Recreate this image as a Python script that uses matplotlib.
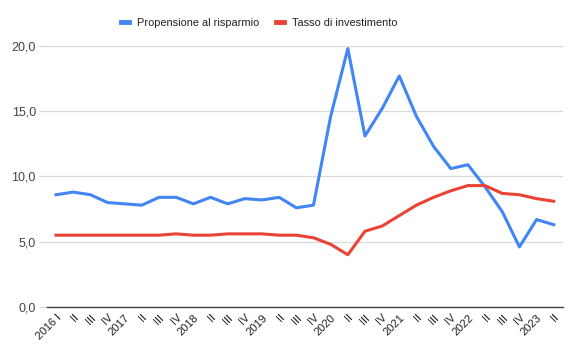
import matplotlib

matplotlib.use("Agg")
import matplotlib.pyplot as plt  # noqa: E402
from matplotlib.ticker import FuncFormatter  # noqa: E402

plt.rcParams["font.family"] = ["Liberation Sans", "DejaVu Sans"]

quarter_labels = [
    "2016 I", "II", "III", "IV",
    "2017", "II", "III", "IV",
    "2018", "II", "III", "IV",
    "2019", "II", "III", "IV",
    "2020", "II", "III", "IV",
    "2021", "II", "III", "IV",
    "2022", "II", "III", "IV",
    "2023", "II",
]
propensione_risparmio = [
    8.6, 8.8, 8.6, 8.0, 7.9, 7.8, 8.4, 8.4, 7.9, 8.4,
    7.9, 8.3, 8.2, 8.4, 7.6, 7.8, 14.6, 19.8, 13.1, 15.2,
    17.7, 14.6, 12.3, 10.6, 10.9, 9.2, 7.3, 4.6, 6.7, 6.3,
]
tasso_investimento = [
    5.5, 5.5, 5.5, 5.5, 5.5, 5.5, 5.5, 5.6, 5.5, 5.5,
    5.6, 5.6, 5.6, 5.5, 5.5, 5.3, 4.8, 4.0, 5.8, 6.2,
    7.0, 7.8, 8.4, 8.9, 9.3, 9.3, 8.7, 8.6, 8.3, 8.1,
]
y_ticks = [0, 5, 10, 15, 20]

BLUE = "#4285F4"
RED = "#EA4335"

fig = plt.figure(figsize=(5.8, 3.59), dpi=100)
ax = fig.add_axes([0.081, 0.145, 0.890, 0.727])

x = list(range(len(quarter_labels)))
ax.plot(x, propensione_risparmio, color=BLUE, linewidth=2.2,
        label="Propensione al risparmio", solid_joinstyle="round")
ax.plot(x, tasso_investimento, color=RED, linewidth=2.2,
        label="Tasso di investimento", solid_joinstyle="round")

ax.set_xlim(-0.53, len(x) - 1 + 0.55)
ax.set_ylim(0, 20)
ax.set_yticks(y_ticks)
ax.yaxis.set_major_formatter(FuncFormatter(lambda v, _: f"{v:.1f}".replace(".", ",")))
ax.grid(axis="y", color="#d9d9d9", linewidth=0.9)
ax.set_axisbelow(True)
for side in ("top", "right", "left"):
    ax.spines[side].set_visible(False)
ax.spines["bottom"].set_color("#444444")
ax.spines["bottom"].set_linewidth(1.0)

ax.set_xticks(x)
ax.set_xticklabels(quarter_labels, rotation=45, ha="right", rotation_mode="anchor")
ax.tick_params(axis="x", length=0, pad=4, labelsize=8, labelcolor="#222222")
ax.tick_params(axis="y", length=6, color="#d9d9d9", width=0.9, pad=2,
               labelsize=9, labelcolor="#444444")

fig.legend(loc="center", bbox_to_anchor=(0.447, 0.937), ncol=2, frameon=False,
           fontsize=7.9, handlelength=0.75, handletextpad=0.7, columnspacing=1.5,
           labelcolor="#222222")
for line in fig.legends[0].get_lines():
    line.set_linewidth(3.5)

fig.savefig("out.png", dpi=100)
